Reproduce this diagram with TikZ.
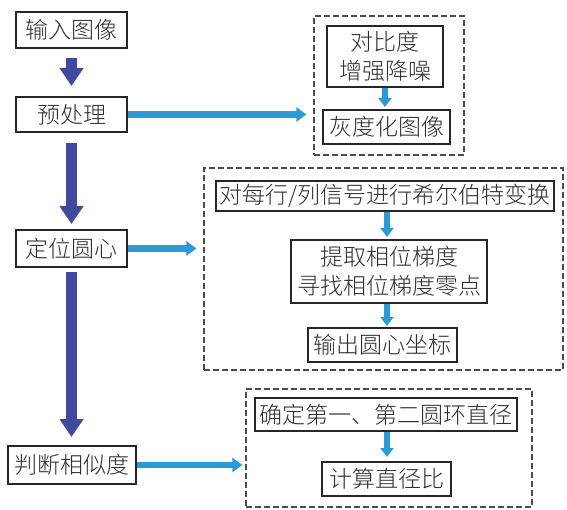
\documentclass[tikz,border=0pt]{standalone}
\usepackage{fontspec}
\setmainfont{Noto Sans CJK SC Light}
\usepackage{tikz}
\usetikzlibrary{arrows.meta}
\definecolor{flowdark}{RGB}{63,74,158}
\definecolor{flowlight}{RGB}{42,155,215}
\definecolor{textgray}{RGB}{45,45,45}

\begin{document}
\begin{tikzpicture}[x=1pt, y=-1pt,
    stepbox/.style={draw=black!85, line width=2pt, inner sep=0pt, text=textgray,
        font=\fontsize{23}{29}\selectfont, align=center},
    groupbox/.style={draw=black!70, line width=1.2pt, dash pattern=on 6pt off 3pt, inner sep=0pt},
    mainflow/.style={draw=flowdark, line width=11pt, -{Triangle[width=23pt, length=18pt]}},
    sideflow/.style={draw=flowlight, line width=6.5pt, -{Triangle[width=14pt, length=10pt]}},
    innerflow/.style={draw=flowlight, line width=6pt, -{Triangle[width=13pt, length=9pt]}}]

\useasboundingbox (0,0) rectangle (567,510);

% ---- main steps, left column ----
\node[stepbox, minimum width=111pt, minimum height=36pt] (input) at (71.5,30) {输入图像};
\node[stepbox, minimum width=111pt, minimum height=35pt] (preproc) at (71.5,114.5) {预处理};
\node[stepbox, minimum width=111pt, minimum height=37pt] (locate) at (71.5,248.5) {定位圆心};
\node[stepbox, minimum width=128pt, minimum height=38pt] (similar) at (72,465) {判断相似度};

\draw[mainflow, shorten <=9pt, shorten >=10pt] (input.south) -- (preproc.north);
\draw[mainflow, shorten <=10pt, shorten >=5pt] (preproc.south) -- (locate.north);
\draw[mainflow, shorten <=4pt, shorten >=8pt] (locate.south) -- (locate.south |- similar.north);

% ---- preprocessing details ----
\node[groupbox, minimum width=150pt, minimum height=139pt] (pregroup) at (389,85.5) {};
\node[stepbox, minimum width=116pt, minimum height=61pt] (enhance) at (385,56.5) {对比度\\增强降噪};
\node[stepbox, minimum width=127pt, minimum height=34pt] (grayimg) at (386.5,127) {灰度化图像};
\draw[innerflow, shorten >=2pt] (enhance.south) -- (enhance.south |- grayimg.north);
\draw[sideflow, shorten >=7pt] (preproc.east) -- (preproc.east -| pregroup.west);

% ---- centre location details ----
\node[groupbox, minimum width=359pt, minimum height=202pt] (locgroup) at (383.5,269) {};
\node[stepbox, minimum width=338pt, minimum height=30pt] (hilbert) at (385,196) {对每行/列信号进行希尔伯特变换};
\node[stepbox, minimum width=196pt, minimum height=63pt] (gradient) at (389,271.5) {提取相位梯度\\寻找相位梯度零点};
\node[stepbox, minimum width=149pt, minimum height=34pt] (centre) at (382.5,345) {输出圆心坐标};
\draw[innerflow, shorten >=2pt] (hilbert.south -| 387,0) -- (gradient.north -| 387,0);
\draw[innerflow, shorten >=1pt] (gradient.south -| 387,0) -- (centre.north -| 387,0);
\draw[sideflow, shorten >=7pt] (locate.east) -- (locate.east -| locgroup.west);

% ---- similarity details ----
\node[groupbox, minimum width=286pt, minimum height=118pt] (simgroup) at (389,448) {};
\node[stepbox, minimum width=262pt, minimum height=33pt] (diameter) at (386,414.5) {确定第一、第二圆环直径};
\node[stepbox, minimum width=129pt, minimum height=34pt] (ratio) at (386.5,479) {计算直径比};
\draw[innerflow, shorten >=4pt] (diameter.south -| 387,0) -- (ratio.north -| 387,0);
\draw[sideflow, shorten >=3pt] (similar.east) -- (similar.east -| simgroup.west);

\end{tikzpicture}
\end{document}
